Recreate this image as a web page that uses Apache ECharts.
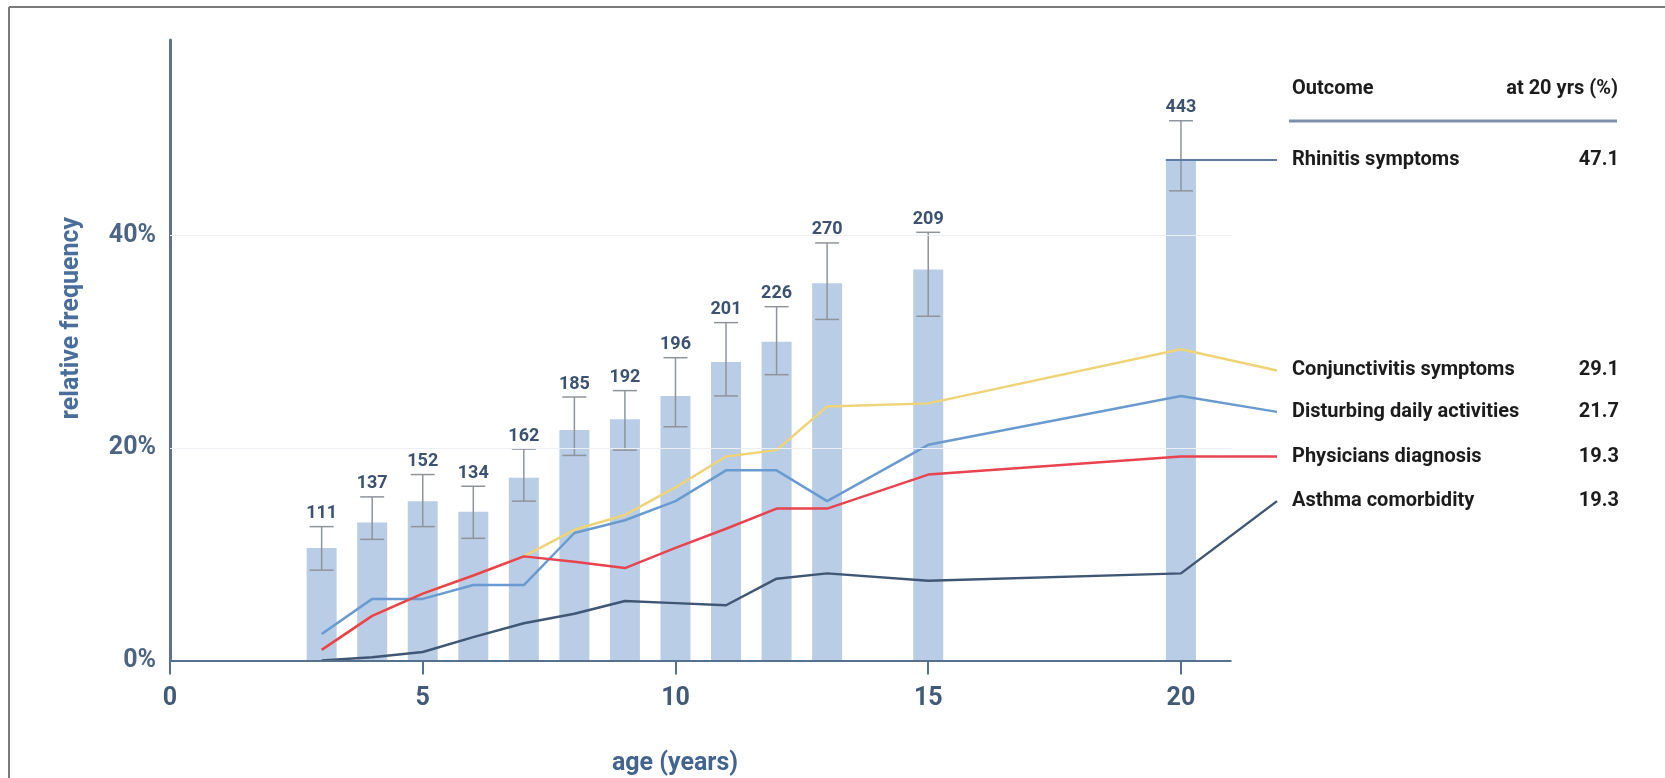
<!DOCTYPE html>
<html>
<head>
<meta charset="utf-8">
<title>Rhinitis outcomes by age</title>
<script src="https://cdn.jsdelivr.net/npm/echarts@6/dist/echarts.min.js"></script>
<style>
  html, body { margin: 0; padding: 0; background: #ffffff; }
  #chart { width: 1665px; height: 778px; }
</style>
</head>
<body>
<div id="chart"></div>
<script>
// Ages at follow-up (years)
const ages = [3, 4, 5, 6, 7, 8, 9, 10, 11, 12, 13, 15, 20];
// Rhinitis symptoms, relative frequency (%) with error bars and number of participants
const rhinitis = [10.6, 13.0, 15.0, 14.0, 17.2, 21.7, 22.7, 24.9, 28.1, 30.0, 35.5, 36.8, 47.1];
const rhinitisLow = [8.5, 11.4, 12.6, 11.5, 15.0, 19.3, 19.8, 22.0, 24.9, 26.9, 32.1, 32.4, 44.2];
const rhinitisHigh = [12.6, 15.4, 17.5, 16.4, 19.9, 24.8, 25.4, 28.5, 31.8, 33.3, 39.3, 40.3, 50.8];
const participants = [111, 137, 152, 134, 162, 185, 192, 196, 201, 226, 270, 209, 443];

// Outcome curves (%) at the same ages
const conjunctivitis = [1.0, 4.2, 6.3, 8.0, 9.8, 12.3, 13.7, 16.3, 19.2, 19.8, 23.9, 24.2, 29.3];
const disturbing = [2.5, 5.8, 5.8, 7.1, 7.1, 12.0, 13.2, 15.0, 17.9, 17.9, 15.0, 20.3, 24.9];
const physicians = [1.0, 4.2, 6.3, 8.0, 9.8, 9.3, 8.7, 10.6, 12.4, 14.3, 14.3, 17.5, 19.2];
const asthma = [0.0, 0.3, 0.8, 2.2, 3.5, 4.4, 5.6, 5.4, 5.2, 7.7, 8.2, 7.5, 8.2];

// Outcome table: names, values at 20 years, and the height (%) where each leader line meets its row
const outcomeNames = ['Rhinitis symptoms', 'Conjunctivitis symptoms', 'Disturbing daily activities', 'Physicians diagnosis', 'Asthma comorbidity'];
const outcomeAt20 = ['47.1', '29.1', '21.7', '19.3', '19.3'];
const leaderEnd = [47.1, 27.3, 23.4, 19.2, 15.0];
const leaderAge = 21.9;
const leaderStartAge = 19.7;

// Axis ticks and the visible extent of the age axis
const xTicks = [0, 5, 10, 15, 20];
const yTicks = [0, 20, 40];
const xAxisEnd = 21;

const FONT = 'Roboto, "Noto Sans", sans-serif';
const AXIS = '#56708f';

const rowLabel = {
  show: true,
  distance: 15,
  formatter: p => '{n|' + p.seriesName + '}{v|' + outcomeAt20[outcomeNames.indexOf(p.seriesName)] + '}',
  rich: {
    n: { width: 250, align: 'left', fontFamily: FONT, fontWeight: 'bold', fontSize: 20, color: '#1c1c1c' },
    v: { width: 77, align: 'right', fontFamily: FONT, fontWeight: 'bold', fontSize: 20, color: '#1c1c1c' }
  }
};

function outcomeLine(idx, values, color) {
  const data = ages.map((a, i) => [a, values[i]]);
  data.push([leaderAge, leaderEnd[idx]]);
  return {
    type: 'line',
    name: outcomeNames[idx],
    data: data,
    symbol: 'none',
    clip: false,
    z: 4,
    lineStyle: { color: color, width: 2.5 },
    endLabel: rowLabel,
    silent: true
  };
}

// horizontal rule from age 0 to the end of the drawn age axis
function hRule(v) {
  return [{ coord: [0, v] }, { coord: [xAxisEnd, v] }];
}

const chart = echarts.init(document.getElementById('chart'), null, { renderer: 'canvas' });

chart.setOption({
  animation: false,
  backgroundColor: '#ffffff',
  grid: { left: 170, top: 40, right: 388, bottom: 117.5 },
  xAxis: {
    type: 'value',
    min: 0,
    max: leaderAge,
    splitLine: { show: false },
    axisLine: { show: false },
    axisTick: { show: true, length: 14, customValues: xTicks, lineStyle: { color: AXIS, width: 2 } },
    axisLabel: {
      customValues: xTicks,
      margin: 26,
      fontFamily: FONT,
      fontWeight: 'bold',
      fontSize: 25,
      color: '#435a77'
    }
  },
  yAxis: {
    type: 'value',
    min: 0,
    max: 58.4,
    splitLine: { show: false },
    axisLine: { show: true, lineStyle: { color: '#5d7491', width: 3 } },
    axisTick: { show: false },
    axisLabel: {
      customValues: yTicks,
      formatter: '{value}%',
      margin: 14,
      fontFamily: FONT,
      fontWeight: 'bold',
      fontSize: 25,
      color: '#4d6584'
    }
  },
  series: [
    {
      type: 'bar',
      name: 'Rhinitis symptoms bars',
      data: ages.map((a, i) => [a, rhinitis[i]]),
      barWidth: 30,
      itemStyle: { color: '#b9cde6' },
      z: 2,
      silent: true,
      markLine: {
        silent: true,
        symbol: ['none', 'none'],
        label: { show: false },
        lineStyle: { color: '#eceff4', width: 1, type: 'solid' },
        data: yTicks.filter(v => v > 0).map(hRule)
      }
    },
    {
      type: 'line',
      name: 'age axis',
      data: [],
      silent: true,
      z: 5,
      markLine: {
        silent: true,
        symbol: ['none', 'none'],
        label: { show: false },
        lineStyle: { color: AXIS, width: 2, type: 'solid' },
        data: [hRule(0)]
      }
    },
    {
      type: 'custom',
      name: 'Rhinitis error bars',
      data: ages.map((a, i) => [a, rhinitisLow[i], rhinitisHigh[i], participants[i]]),
      encode: { x: 0, y: [1, 2] },
      z: 3,
      silent: true,
      renderItem: function (params, api) {
        const x = api.value(0);
        const lo = api.coord([x, api.value(1)]);
        const hi = api.coord([x, api.value(2)]);
        const cap = 12;
        const st = { stroke: '#8f949b', lineWidth: 1.5 };
        return {
          type: 'group',
          children: [
            { type: 'line', shape: { x1: lo[0], y1: lo[1], x2: hi[0], y2: hi[1] }, style: st },
            { type: 'line', shape: { x1: lo[0] - cap, y1: lo[1], x2: lo[0] + cap, y2: lo[1] }, style: st },
            { type: 'line', shape: { x1: hi[0] - cap, y1: hi[1], x2: hi[0] + cap, y2: hi[1] }, style: st },
            {
              type: 'text',
              x: hi[0],
              y: hi[1] - 4,
              style: {
                text: String(api.value(3)),
                align: 'center',
                verticalAlign: 'bottom',
                font: 'bold 18px Roboto, sans-serif',
                fill: '#3c5270'
              }
            }
          ]
        };
      }
    },
    {
      type: 'line',
      name: outcomeNames[0],
      data: [[leaderStartAge, leaderEnd[0]], [leaderAge, leaderEnd[0]]],
      symbol: 'none',
      clip: false,
      z: 4,
      silent: true,
      lineStyle: { color: '#5a7ca3', width: 2 },
      endLabel: rowLabel
    },
    outcomeLine(1, conjunctivitis, '#eed477'),
    outcomeLine(2, disturbing, '#6a9bd0'),
    outcomeLine(3, physicians, '#e8434f'),
    outcomeLine(4, asthma, '#3f5674')
  ],
  graphic: [
    // frame edges
    { type: 'line', shape: { x1: 9, y1: 7, x2: 1665, y2: 7 }, style: { stroke: '#7a7a7a', lineWidth: 2 } },
    { type: 'line', shape: { x1: 9, y1: 7, x2: 9, y2: 778 }, style: { stroke: '#7a7a7a', lineWidth: 2 } },
    // axis titles
    {
      type: 'text', x: 72, y: 318, rotation: Math.PI / 2,
      style: { text: 'relative frequency', align: 'center', verticalAlign: 'middle', font: 'bold 25px Roboto, sans-serif', fill: '#4a6e9c' }
    },
    {
      type: 'text', x: 675, y: 764,
      style: { text: 'age (years)', align: 'center', verticalAlign: 'middle', font: 'bold 25px Roboto, sans-serif', fill: '#43648f' }
    },
    // table header
    {
      type: 'text', x: 1292, y: 89,
      style: { text: 'Outcome', align: 'left', verticalAlign: 'middle', font: 'bold 20px Roboto, sans-serif', fill: '#1c1c1c' }
    },
    {
      type: 'text', x: 1618, y: 89,
      style: { text: 'at 20 yrs (%)', align: 'right', verticalAlign: 'middle', font: 'bold 20px Roboto, sans-serif', fill: '#1c1c1c' }
    },
    { type: 'line', shape: { x1: 1289, y1: 121, x2: 1617, y2: 121 }, style: { stroke: '#7f91aa', lineWidth: 3 } }
  ]
});
</script>
</body>
</html>
